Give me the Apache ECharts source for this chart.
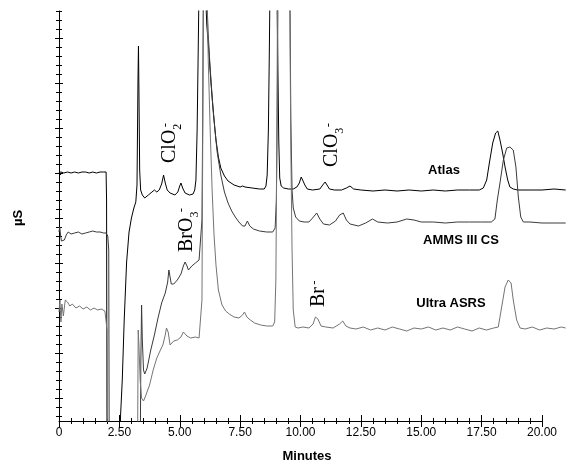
<!DOCTYPE html>
<html><head><meta charset="utf-8">
<script src="https://cdn.jsdelivr.net/npm/echarts@6/dist/echarts.min.js"></script>
<style>html,body{margin:0;padding:0;background:#fff}#c{width:587px;height:465px}</style>
</head><body><div id="c"></div>
<script>
// ---- data (time in minutes, response in µS, arbitrary units) ----
const xTickLabels = ['0','2.50','5.00','7.50','10.00','12.50','15.00','17.50','20.00'];

const atlasT = [0,0.03,0.06,0.10,0.20,0.35,0.50,0.65,0.80,0.95,1.10,1.25,1.40,1.55,1.70,1.85,1.95,1.97,1.99,2.50,2.55,2.62,2.70,2.80,2.90,3.00,3.10,3.18,3.23,3.27,3.29,3.31,3.34,3.38,3.45,3.55,3.70,3.85,3.95,4.05,4.15,4.25,4.33,4.40,4.48,4.60,4.80,4.92,5.00,5.05,5.12,5.22,5.40,5.55,5.62,5.67,5.72,5.77,5.80,6.05,6.12,6.20,6.30,6.40,6.50,6.60,6.70,6.85,7.00,7.25,7.50,7.60,7.70,8.00,8.30,8.50,8.57,8.62,8.67,8.71,8.74,9.02,9.06,9.10,9.14,9.20,9.30,9.50,9.70,9.85,9.95,10.03,10.10,10.18,10.28,10.50,10.80,10.92,11.02,11.10,11.20,11.40,11.70,11.90,12.05,12.20,12.50,13.00,13.50,14.00,14.50,15.00,15.50,16.00,16.50,17.00,17.40,17.57,17.71,17.82,17.96,18.08,18.17,18.26,18.37,18.47,18.58,18.67,18.81,19.00,19.50,20.00,20.50,20.98];
const atlasV = [247,250,246,249,248,249,248,249,248,249,249,248,249,248,249,249,249,221,-40,-40,6,41,101,159,189,203,213,219,236,341,375,331,251,231,226,223,226,229,231,229,231,237,246,238,231,228,226,229,235,238,233,228,226,227,231,241,291,381,440,440,396,371,336,306,281,264,253,245,240,236,234,235,234,233,232,232,235,246,291,371,440,440,361,281,243,235,233,232,232,234,238,244,243,236,232,231,232,236,239,237,232,231,231,233,235,232,231,230,231,230,231,230,231,230,231,231,231,233,241,258,278,288,290,281,268,254,241,234,232,231,231,231,232,231];

const ammsT = [0,0.03,0.07,0.10,0.15,0.22,0.30,0.38,0.50,0.65,0.80,0.95,1.10,1.25,1.40,1.55,1.70,1.85,1.95,2.02,2.06,2.08,3.36,3.39,3.42,3.45,3.50,3.55,3.65,3.80,3.95,4.10,4.25,4.40,4.50,4.55,4.60,4.65,4.75,4.90,5.05,5.15,5.22,5.30,5.36,5.50,5.65,5.80,5.88,5.92,5.95,5.98,6.10,6.17,6.25,6.35,6.45,6.55,6.70,6.85,7.00,7.15,7.30,7.45,7.60,7.70,7.80,7.90,8.05,8.30,8.60,8.85,8.95,9.00,9.04,9.07,9.56,9.60,9.65,9.70,9.80,9.95,10.15,10.35,10.50,10.67,10.80,10.95,11.20,11.45,11.62,11.77,11.90,12.05,12.40,12.70,12.98,13.20,13.60,14.00,14.40,14.70,15.00,15.50,16.00,16.50,17.00,17.50,17.90,18.05,18.15,18.26,18.40,18.54,18.67,18.81,18.92,19.02,19.12,19.23,19.50,20.00,20.50,20.98];
const ammsV = [189,194,185,180,179,181,186,189,187,188,189,187,188,189,190,189,189,188,188,185,171,-40,-40,61,116,81,51,47,53,71,86,103,118,128,139,151,149,137,137,141,147,155,159,155,151,155,158,161,163,201,301,440,440,391,356,321,293,269,246,229,218,210,204,199,195,195,200,195,192,190,189,189,193,221,321,440,440,301,231,213,204,200,199,199,203,208,202,197,196,200,206,208,201,197,195,198,202,199,198,199,202,201,199,199,198,199,199,199,199,202,221,238,261,273,274,271,254,224,204,199,199,198,198,198];

const ultraT = [0,0.04,0.08,0.12,0.18,0.26,0.35,0.45,0.55,0.70,0.85,1.00,1.15,1.30,1.45,1.60,1.75,1.90,1.97,1.99,2.01,3.25,3.28,3.31,3.36,3.42,3.50,3.60,3.75,3.90,4.05,4.20,4.30,4.40,4.45,4.52,4.60,4.75,4.90,5.05,5.15,5.22,5.30,5.45,5.65,5.80,5.88,5.92,5.95,5.98,6.12,6.18,6.26,6.34,6.42,6.50,6.60,6.75,6.90,7.05,7.25,7.45,7.60,7.68,7.78,7.92,8.10,8.35,8.60,8.85,8.93,8.98,9.02,9.05,9.55,9.60,9.65,9.70,9.78,9.90,10.10,10.35,10.52,10.62,10.72,10.85,11.05,11.35,11.62,11.75,11.88,12.05,12.3,12.6,12.9,13.2,13.5,13.8,14.1,14.4,14.7,15.0,15.3,15.6,15.9,16.2,16.5,16.8,17.1,17.4,17.7,18.0,18.19,18.33,18.47,18.60,18.72,18.81,18.95,19.09,19.3,19.6,19.9,20.2,20.5,20.8,20.98];
const ultraV = [109,121,99,117,105,121,119,115,117,113,115,112,114,111,113,111,112,110,110,91,-40,-40,91,76,41,23,20,26,36,51,63,71,76,86,93,89,76,80,81,84,89,91,85,83,84,83,83,121,271,440,440,361,291,231,186,156,131,116,110,107,104,103,106,109,104,101,98,96,95,95,99,141,271,440,440,271,171,111,94,93,94,93,97,104,102,95,94,93,97,100,95,93,92,94,91,93,91,94,92,90,93,92,94,91,93,91,94,92,90,93,91,93,94,114,134,141,138,121,101,93,92,94,91,93,92,94,93];

const seriesNames = ['Atlas','AMMS III CS','Ultra ASRS'];
const seriesColors = ['#000000','#3a3a3a','#747474'];

// ---- layout ----
const W = 587, H = 465;
const L = 59, T = 11, B = 44, R0 = 45;
const pxPerMin = (W - L - R0) / 20;
const R1 = W - L - pxPerMin * 21;
const Y_MAX = 410;
const majorY = [], minorY = [];
for (let k = 0; k < 9; k++) majorY.push(22.7 + 45 * k);
for (let k = 0; k < 46; k++) minorY.push(4.7 + 9 * k);

function zip(t, v) { return t.map((x, i) => [x, v[i]]); }

const axisLine = { show: true, lineStyle: { color: '#000', width: 1 } };
const hiddenLine = { show: false };

function yAx(values, inside, len, line) {
  return {
    type: 'value', gridIndex: 0, min: 0, max: Y_MAX, position: 'left',
    axisLine: line ? axisLine : hiddenLine,
    axisTick: { show: true, inside: inside, length: len, customValues: values, lineStyle: { color: '#000', width: 1 } },
    axisLabel: { show: false }, splitLine: { show: false }
  };
}
function xAx(inside, labels) {
  return {
    type: 'value', gridIndex: 0, min: 0, max: 20, interval: 2.5, position: 'bottom',
    axisLine: labels ? axisLine : hiddenLine,
    axisTick: { show: true, inside: inside, length: 6, lineStyle: { color: '#000', width: 1 } },
    minorTick: { show: true, splitNumber: 5, length: 3, lineStyle: { color: '#000', width: 1 } },
    axisLabel: { show: labels, margin: 6, color: '#000', fontFamily: 'Liberation Sans, Arial, sans-serif', fontSize: 12,
      formatter: v => xTickLabels[Math.round(v / 2.5)] },
    splitLine: { show: false }, minorSplitLine: { show: false }
  };
}

const serif = '"Liberation Serif", "Times New Roman", serif';
const sans = '"Liberation Sans", Arial, sans-serif';
function ion(x, y, main, sub) {
  const txt = sub ? '{m|' + main + '}{s|' + sub + '}' : '{m|' + main + '}';
  return {
    type: 'text', x: x, y: y, rotation: Math.PI / 2, silent: true,
    style: { text: txt, align: 'left', verticalAlign: 'middle', fill: '#000',
      rich: { m: { fontFamily: serif, fontSize: 20, lineHeight: 28, verticalAlign: 'middle', fill: '#000' },
              s: { fontFamily: serif, fontSize: 12, lineHeight: 12, verticalAlign: 'bottom', fill: '#000' } } }
  };
}
function sup(x, y) {
  return { type: 'text', x: x, y: y, rotation: Math.PI / 2, silent: true,
    style: { text: '-', font: '13px ' + serif, align: 'center', verticalAlign: 'middle', fill: '#000' } };
}
function label(x, y, t, rot) {
  return { type: 'text', x: x, y: y, rotation: rot || 0, silent: true,
    style: { text: t, font: 'bold 13px ' + sans, align: 'center', verticalAlign: 'middle', fill: '#000' } };
}

const option = {
  animation: false,
  backgroundColor: '#fff',
  grid: [
    { left: L, right: R0, top: T, bottom: B },
    { left: L, right: R1, top: T, bottom: B }
  ],
  xAxis: [
    xAx(false, true),
    xAx(true, false),
    { type: 'value', gridIndex: 1, min: 0, max: 21, show: false }
  ],
  yAxis: [
    yAx(majorY, false, 4, true),
    yAx(majorY, true, 4, false),
    yAx(minorY, false, 3, false),
    yAx(minorY, true, 3, false),
    { type: 'value', gridIndex: 1, min: 0, max: Y_MAX, show: false }
  ],
  series: [
    [atlasT, atlasV], [ammsT, ammsV], [ultraT, ultraV]
  ].map((d, i) => ({
    type: 'line', name: seriesNames[i], xAxisIndex: 2, yAxisIndex: 4,
    data: zip(d[0], d[1]), showSymbol: false, symbol: 'none', clip: true, silent: true,
    lineStyle: { color: seriesColors[i], width: 1 }
  })),
  graphic: [
    ion(170, 163, 'ClO', '2'), sup(165.5, 125),
    ion(186.5, 252, 'BrO', '3'), sup(182, 210),
    ion(331.5, 167, 'ClO', '3'), sup(328.5, 125),
    ion(318.5, 307, 'Br', ''), sup(314.5, 282.5),
    label(444, 170, seriesNames[0]),
    label(461, 240, seriesNames[1]),
    label(451, 303, seriesNames[2]),
    label(307, 456, 'Minutes'),
    label(18.5, 218, 'µS', Math.PI / 2)
  ]
};
const chart = echarts.init(document.getElementById('c'), null, { renderer: 'canvas' });
chart.setOption(option);
</script></body></html>
